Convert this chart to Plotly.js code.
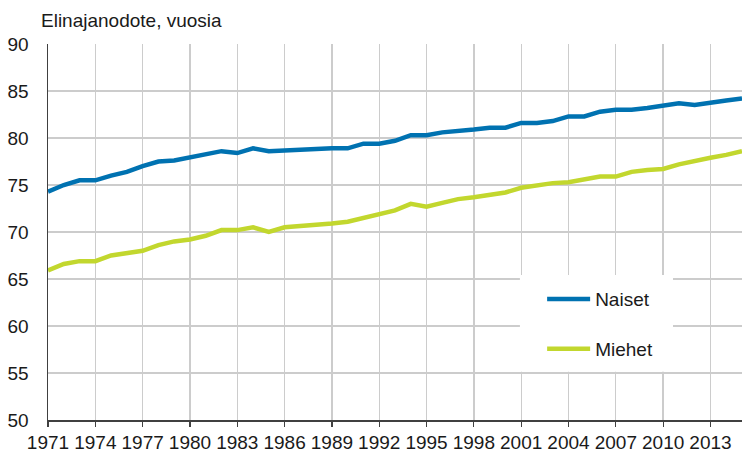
<!DOCTYPE html>
<html>
<head>
<meta charset="utf-8">
<script src="https://cdn.plot.ly/plotly-3.0.1.min.js"></script>
<style>html,body{margin:0;padding:0;background:#fff;}#chart{width:746px;height:457px;}</style>
</head>
<body>
<div id="chart"></div>
<script>
const years = [1971,1972,1973,1974,1975,1976,1977,1978,1979,1980,1981,1982,1983,1984,1985,1986,1987,1988,1989,1990,1991,1992,1993,1994,1995,1996,1997,1998,1999,2000,2001,2002,2003,2004,2005,2006,2007,2008,2009,2010,2011,2012,2013,2014,2015];
const naiset = [74.3,75.0,75.5,75.5,76.0,76.4,77.0,77.5,77.6,77.9,78.3,78.6,78.4,78.9,78.6,78.7,78.8,78.8,78.9,78.9,79.4,79.4,79.7,80.3,80.3,80.6,80.7,80.9,81.1,81.1,81.6,81.6,81.8,82.3,82.3,82.8,83.0,83.0,83.2,83.4,83.7,83.5,83.8,84.0,84.2];
const miehet = [65.9,66.6,66.9,66.9,67.5,67.7,68.0,68.6,69.0,69.2,69.6,70.2,70.2,70.5,70.0,70.5,70.6,70.7,70.9,71.1,71.5,71.8,72.3,73.0,72.7,73.1,73.5,73.7,73.9,74.2,74.7,75.0,75.2,75.3,75.6,75.9,75.9,76.4,76.6,76.7,77.2,77.6,77.9,78.2,78.6];
const tickYears = [1971,1974,1977,1980,1983,1986,1989,1992,1995,1998,2001,2004,2007,2010,2013];
const tickLabels = ["1971","1974","1977","1980","1983","1986","1989","1992","1995","1998","2001","2004","2007","2010","2013"];
const seriesNames = ["Naiset","Miehet"];

const FONT = '"Liberation Sans", Arial, sans-serif';
const traces = [
  {x: years, y: naiset, name: seriesNames[0], type: 'scatter', mode: 'lines',
   line: {color: '#0072b1', width: 4.5}, legendgroup: 'a'},
  {x: years, y: miehet, name: seriesNames[1], type: 'scatter', mode: 'lines',
   line: {color: '#c2d72e', width: 4.5}, legendgroup: 'b'}
];
const layout = {
  width: 746, height: 457,
  margin: {l: 48, r: 4, t: 44, b: 37},
  paper_bgcolor: '#fff', plot_bgcolor: '#fff',
  font: {family: FONT, size: 19, color: '#1a1a1a'},
  title: {text: 'Elinajanodote, vuosia', font: {family: FONT, size: 19, color: '#1a1a1a'},
          xref: 'container', yref: 'container', x: 41/746, xanchor: 'left', y: 1 - 20/457, yanchor: 'middle'},
  showlegend: true,
  legend: {x: 0.712, xanchor: 'left', y: 0.372, yanchor: 'top', bgcolor: 'rgba(0,0,0,0)',
           borderwidth: 0, tracegroupgap: 22, itemwidth: 43,
           font: {family: FONT, size: 19, color: '#1a1a1a'}},
  xaxis: {type: 'linear', range: [1971, 2015], tickmode: 'array', tickvals: tickYears, ticktext: tickLabels,
          showgrid: true, gridcolor: '#cccccc', gridwidth: 1.3, zeroline: false,
          showline: true, linecolor: '#404040', linewidth: 1.5,
          ticks: 'outside', ticklen: 5, tickcolor: '#404040', tickwidth: 1.2,
          tickfont: {family: FONT, size: 19, color: '#1a1a1a'}, fixedrange: true},
  yaxis: {range: [50, 90], tickmode: 'array', tickvals: [50,55,60,65,70,75,80,85,90],
          showgrid: true, gridcolor: '#cccccc', gridwidth: 1.3, zeroline: false,
          showline: true, linecolor: '#404040', linewidth: 1.5, ticks: '', ticklabelstandoff: 14,
          tickfont: {family: FONT, size: 19, color: '#1a1a1a'}, fixedrange: true},
  shapes: [{type: 'rect', xref: 'paper', yref: 'paper', x0: 0.680, x1: 0.9006, y0: 0.128, y1: 0.3856,
            fillcolor: '#ffffff', line: {width: 0}, layer: 'above'}]
};
Plotly.newPlot('chart', traces, layout, {displayModeBar: false, staticPlot: true});
</script>
</body>
</html>
